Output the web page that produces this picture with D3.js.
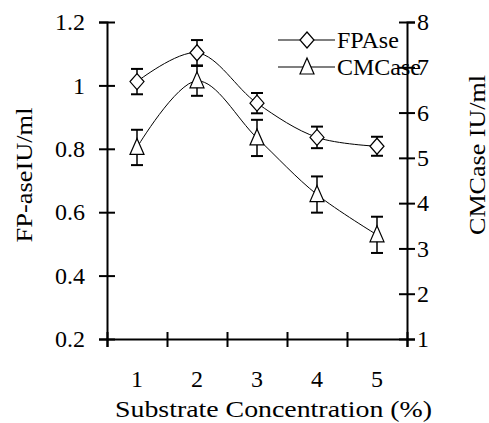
<!DOCTYPE html>
<html>
<head>
<meta charset="utf-8">
<script src="https://cdn.jsdelivr.net/npm/d3@7"></script>
<style>
  body { margin: 0; background: #fff; }
  text { font-family: "Liberation Serif", "Times New Roman", serif; fill: #000; }
</style>
</head>
<body>
<div id="chart"></div>
<script>
// data
const concentrations = ["1", "2", "3", "4", "5"];
const fpaseValues = [1.012, 1.103, 0.944, 0.836, 0.808];
const fpaseErrors = [0.04, 0.04, 0.032, 0.034, 0.03];
const cmcaseValues = [5.23, 6.70, 5.44, 4.19, 3.30];
const cmcaseErrors = [0.39, 0.33, 0.4, 0.4, 0.4];
const leftTicks = [0.2, 0.4, 0.6, 0.8, 1, 1.2];
const rightTicks = [1, 2, 3, 4, 5, 6, 7, 8];
const seriesNames = ["FPAse", "CMCase"];

function drawChart(containerId) {
  const margin = { top: 22, right: 82, bottom: 84, left: 107 },
        width = 489 - margin.left - margin.right,
        height = 423 - margin.top - margin.bottom;

  const svg = d3.select(`#${containerId}`)
    .append("svg")
      .attr("width", 489)
      .attr("height", 423)
    .append("g")
      .attr("transform", `translate(${margin.left},${margin.top})`);

  const x = d3.scaleBand().domain(concentrations).range([0, width]);
  const xEdge = d3.scaleLinear().domain([0, concentrations.length]).range([0, width]);
  const yLeft = d3.scaleLinear().domain([0.2, 1.2]).range([height, 0]);
  const yRight = d3.scaleLinear().domain([1, 8]).range([height, 0]);
  const cx = d => x(d) + x.bandwidth() / 2;

  const fpase = concentrations.map((c, i) => ({ c, v: fpaseValues[i], e: fpaseErrors[i] }));
  const cmcase = concentrations.map((c, i) => ({ c, v: cmcaseValues[i], e: cmcaseErrors[i] }));

  const diamond = "M0,-8L7,0L0,8L-7,0Z";
  const triangle = "M0,-9L7,7L-7,7Z";

  // smoothed lines
  const lineL = d3.line().x(d => cx(d.c)).y(d => yLeft(d.v)).curve(d3.curveCatmullRom);
  const lineR = d3.line().x(d => cx(d.c)).y(d => yRight(d.v)).curve(d3.curveCatmullRom);
  svg.append("path").datum(fpase).attr("fill", "none").attr("stroke", "#000").attr("stroke-width", 1).attr("d", lineL);
  svg.append("path").datum(cmcase).attr("fill", "none").attr("stroke", "#000").attr("stroke-width", 1).attr("d", lineR);

  // error bars
  function errorBars(data, y) {
    const g = svg.append("g");
    data.forEach(d => {
      const px = cx(d.c);
      g.append("line").attr("x1", px).attr("x2", px)
        .attr("y1", y(d.v - d.e)).attr("y2", y(d.v + d.e))
        .attr("stroke", "#000").attr("stroke-width", 1.5);
      [d.v - d.e, d.v + d.e].forEach(val => {
        g.append("line").attr("x1", px - 6).attr("x2", px + 6)
          .attr("y1", y(val)).attr("y2", y(val))
          .attr("stroke", "#000").attr("stroke-width", 2);
      });
    });
  }
  errorBars(fpase, yLeft);
  errorBars(cmcase, yRight);

  // markers
  svg.append("g").selectAll("path").data(fpase).join("path")
    .attr("d", diamond)
    .attr("transform", d => `translate(${cx(d.c)},${yLeft(d.v)})`)
    .attr("fill", "#fff").attr("stroke", "#000").attr("stroke-width", 1.2);
  svg.append("g").selectAll("path").data(cmcase).join("path")
    .attr("d", triangle)
    .attr("transform", d => `translate(${cx(d.c)},${yRight(d.v)})`)
    .attr("fill", "#fff").attr("stroke", "#000").attr("stroke-width", 1.2);

  // legend
  const legend = svg.append("g");
  seriesNames.forEach((name, i) => {
    const ly = 18 + i * 27;
    legend.append("line").attr("x1", 171).attr("x2", 228).attr("y1", ly).attr("y2", ly)
      .attr("stroke", "#000").attr("stroke-width", 1.2);
    legend.append("path").attr("d", i === 0 ? diamond : triangle)
      .attr("transform", `translate(200,${ly})`)
      .attr("fill", "#fff").attr("stroke", "#000").attr("stroke-width", 1.2);
    legend.append("text").attr("x", 230).attr("y", ly).attr("dy", "0.33em")
      .style("font-size", "24px").text(name);
  });

  // axes
  const styleAxis = g => {
    g.attr("font-family", null);
    g.select(".domain").attr("stroke", "#000").attr("stroke-width", 2);
    g.selectAll(".tick line").attr("stroke", "#000").attr("stroke-width", 2);
    g.selectAll(".tick text").style("font-size", "24px").attr("fill", "#000");
  };

  svg.append("g")
    .call(d3.axisLeft(yLeft).tickValues(leftTicks).tickFormat(d3.format("")).tickSizeOuter(0).tickSize(8).tickPadding(14))
    .call(styleAxis)
    .call(g => g.selectAll(".tick line").attr("x2", 8).attr("x1", -8));

  svg.append("g")
    .attr("transform", `translate(${width},0)`)
    .call(d3.axisRight(yRight).tickValues(rightTicks).tickFormat(d3.format("d")).tickSizeOuter(0).tickSize(8).tickPadding(2))
    .call(styleAxis)
    .call(g => g.selectAll(".tick line").attr("x1", -8).attr("x2", 8));

  svg.append("g")
    .attr("transform", `translate(0,${height})`)
    .call(d3.axisBottom(xEdge).tickValues(d3.range(concentrations.length + 1)).tickFormat("").tickSizeOuter(0).tickSize(8))
    .call(styleAxis)
    .call(g => g.selectAll(".tick line").attr("y1", -7).attr("y2", 8));

  svg.append("g")
    .attr("transform", `translate(0,${height})`)
    .call(d3.axisBottom(x).tickSize(0).tickPadding(31))
    .call(styleAxis)
    .call(g => g.select(".domain").remove());

  // axis titles
  svg.append("text")
    .attr("x", 273.5 - margin.left)
    .attr("y", 417 - margin.top)
    .attr("text-anchor", "middle")
    .attr("textLength", 317).attr("lengthAdjust", "spacingAndGlyphs")
    .style("font-size", "23px")
    .text("Substrate Concentration (%)");

  svg.append("text")
    .attr("transform", `translate(${32 - margin.left},${175 - margin.top}) rotate(-90)`)
    .attr("text-anchor", "middle")
    .attr("textLength", 135).attr("lengthAdjust", "spacingAndGlyphs")
    .style("font-size", "23px")
    .text("FP-aseIU/ml");

  svg.append("text")
    .attr("transform", `translate(${485 - margin.left},${155 - margin.top}) rotate(-90)`)
    .attr("text-anchor", "middle")
    .attr("textLength", 160).attr("lengthAdjust", "spacingAndGlyphs")
    .style("font-size", "23px")
    .text("CMCase IU/ml");
}

drawChart("chart");
</script>
</body>
</html>
